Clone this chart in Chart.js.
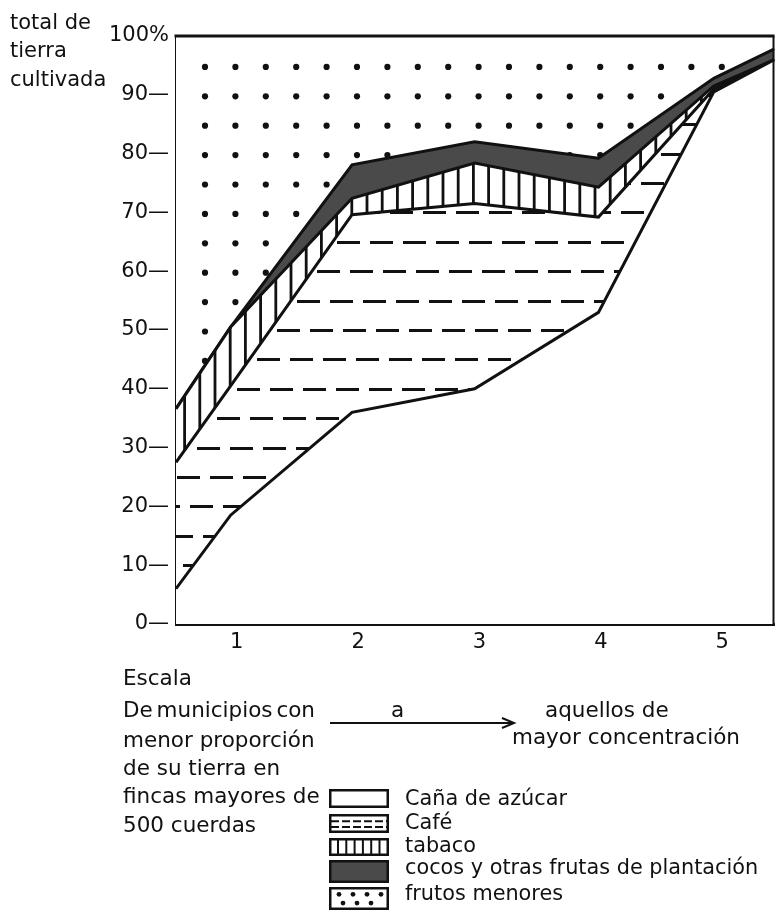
<!DOCTYPE html>
<html><head><meta charset="utf-8">
<script src="https://cdn.jsdelivr.net/npm/chart.js@4"></script>
<style>
html,body{margin:0;padding:0;background:#fff;width:776px;height:916px;overflow:hidden;font-family:"DejaVu Sans",sans-serif;color:#111}
#wrap{position:relative;width:776px;height:916px}
#c{position:absolute;left:0;top:0}
.t{position:absolute;font-size:21.5px;line-height:21px;white-space:nowrap}
.l{position:absolute;font-size:20.8px;line-height:20px;white-space:nowrap}
.box{position:absolute;left:329px}
</style></head><body>
<div id="wrap">
<canvas id="c" width="776" height="916"></canvas>
<div class="t" style="left:10px;top:12px;font-size:21px">total de</div>
<div class="t" style="left:10px;top:40px;font-size:21px">tierra</div>
<div class="t" style="left:10px;top:69px;font-size:21px">cultivada</div>

<div class="t" style="left:123px;top:667px">Escala</div>
<div class="t" style="left:123px;top:699px;word-spacing:-3px">De municipios con</div>
<div class="t" style="left:123px;top:729px">menor proporción</div>
<div class="t" style="left:123px;top:757px">de su tierra en</div>
<div class="t" style="left:123px;top:785px">fincas mayores de</div>
<div class="t" style="left:123px;top:814px">500 cuerdas</div>

<div class="t" style="left:391px;top:699px">a</div>
<div class="t" style="left:545px;top:699px">aquellos de</div>
<div class="t" style="left:512px;top:726px">mayor concentración</div>
<canvas id="arrow" width="200" height="14" style="position:absolute;left:326px;top:716px"></canvas>

<canvas class="box" id="b0" width="60" height="19" style="top:789px"></canvas>
<canvas class="box" id="b1" width="60" height="19" style="top:814px"></canvas>
<canvas class="box" id="b2" width="60" height="18" style="top:838px"></canvas>
<canvas class="box" id="b3" width="60" height="23" style="top:860px"></canvas>
<canvas class="box" id="b4" width="60" height="23" style="top:887px"></canvas>
<div class="l" style="left:405px;top:788px">Caña de azúcar</div>
<div class="l" style="left:405px;top:812px">Café</div>
<div class="l" style="left:405px;top:835px">tabaco</div>
<div class="l" style="left:405px;top:857px">cocos y otras frutas de plantación</div>
<div class="l" style="left:405px;top:883px">frutos menores</div>
</div>
<script>
// ---- data ----
const xPositions  = [0.5, 0.95, 1.95, 2.96, 3.98, 4.93, 5.43];   // left edge, scale steps 1..5, right edge
const xTickValues = [1, 2, 3, 4, 5];
const yTickValues = [0, 10, 20, 30, 40, 50, 60, 70, 80, 90, 100];
const seriesNames = ['Caña de azúcar', 'Café', 'tabaco', 'cocos y otras frutas de plantación', 'frutos menores'];
const cana   = [6,    18.5, 36,   40,   53,   90.5, 96];
const cafe   = [21.5, 22,   33.6, 31.5, 16.2, 0.5,  0];
const tabaco = [9.1,  10,   2.8,  6.9,  5.1,  0.5,  0];
const cocos  = [0,    0,    5.7,  3.6,  4.9,  1.3,  1.8];
const frutos = [63.4, 49.5, 21.9, 18,   20.8, 7.2,  2.2];

const FONT = '"DejaVu Sans", sans-serif';
const INK = '#111';
const DARK = '#4a4a4a';
const pts = arr => xPositions.map((x, i) => ({x, y: arr[i]}));

const framePlugin = {
  id: 'frame',
  afterDraw(chart) {
    const {ctx, chartArea: a} = chart;
    ctx.save();
    ctx.strokeStyle = INK;
    ctx.lineWidth = 2.8;
    ctx.beginPath(); ctx.moveTo(a.left - 1.5, a.top); ctx.lineTo(a.right, a.top); ctx.stroke();
    ctx.lineWidth = 2;
    ctx.beginPath(); ctx.moveTo(a.right - 1, a.top); ctx.lineTo(a.right - 1, a.bottom); ctx.stroke();
    ctx.restore();
  }
};

const line = {borderColor: INK, borderWidth: 3, pointRadius: 0};
const chart = new Chart(document.getElementById('c'), {
  type: 'line',
  data: {datasets: [
    {label: seriesNames[0], data: pts(cana),   fill: 'origin', backgroundColor: '#fff', ...line},
    {label: seriesNames[1], data: pts(cafe),   fill: '-1', backgroundColor: '#fff', ...line},
    {label: seriesNames[2], data: pts(tabaco), fill: '-1', backgroundColor: '#fff', ...line},
    {label: seriesNames[3], data: pts(cocos),  fill: '-1', backgroundColor: DARK, ...line},
    {label: seriesNames[4], data: pts(frutos), fill: '-1', backgroundColor: '#fff', borderWidth: 0, pointRadius: 0}
  ]},
  options: {
    responsive: false,
    animation: false,
    layout: {padding: {top: 36, right: 0, bottom: 252, left: 0}},
    elements: {line: {tension: 0, borderJoinStyle: 'miter'}, point: {radius: 0}},
    plugins: {legend: {display: false}, tooltip: {enabled: false}},
    scales: {
      x: {
        type: 'linear', min: xPositions[0], max: xPositions[xPositions.length - 1], z: 1,
        grid: {display: false, drawTicks: false},
        border: {display: true, color: INK, width: 3},
        afterBuildTicks: s => { s.ticks = xTickValues.map(v => ({value: v})); },
        afterFit: s => { s.height = 40; },
        ticks: {color: INK, font: {family: FONT, size: 21}, padding: 6, maxRotation: 0, autoSkip: false}
      },
      y: {
        stacked: true, min: 0, max: 100, z: 1,
        grid: {display: false, drawTicks: false},
        border: {display: true, color: INK, width: 3},
        afterBuildTicks: s => { s.ticks = yTickValues.map(v => ({value: v})); },
        afterFit: s => { s.width = 176; },
        ticks: {color: INK, font: {family: FONT, size: 21}, padding: 7,
                callback: v => v === 100 ? '100%' : v + '—'}
      }
    }
  },
  plugins: [framePlugin]
});

// ---- hatch patterns anchored to the chart's own scales ----
function makeCanvas(w, h) { const c = document.createElement('canvas'); c.width = w; c.height = h; return c; }
function buildPatterns() {
  const a = chart.chartArea, ys = chart.scales.y, W = chart.width, H = chart.height;
  // café: horizontal dashed lines every 5 %
  const c1 = makeCanvas(W, H), g1 = c1.getContext('2d');
  g1.fillStyle = '#fff'; g1.fillRect(0, 0, W, H);
  g1.strokeStyle = INK; g1.lineWidth = 3;
  for (let v = 5; v < 100; v += 5) {
    const y = Math.round(ys.getPixelForValue(v)) + 0.5;
    g1.setLineDash([23, 10]); g1.lineDashOffset = ((v / 5) * 13) % 33;
    g1.beginPath(); g1.moveTo(a.left, y); g1.lineTo(a.right, y); g1.stroke();
  }
  // tabaco: vertical lines
  const c2 = makeCanvas(W, H), g2 = c2.getContext('2d');
  g2.fillStyle = '#fff'; g2.fillRect(0, 0, W, H);
  g2.strokeStyle = INK; g2.lineWidth = 2.8;
  for (let x = 443 - 15.2 * 20; x < W; x += 15.2) {
    g2.beginPath(); g2.moveTo(x, 0); g2.lineTo(x, H); g2.stroke();
  }
  // frutos menores: dot grid
  const c3 = makeCanvas(W, H), g3 = c3.getContext('2d');
  g3.fillStyle = '#fff'; g3.fillRect(0, 0, W, H);
  g3.fillStyle = '#111';
  for (let v = 95; v > 0; v -= 5) {
    const y = ys.getPixelForValue(v) + 1.5;
    for (let x = a.left + 29; x < a.right - 40; x += 30.4) {
      g3.beginPath(); g3.arc(x, y, 3.1, 0, Math.PI * 2); g3.fill();
    }
  }
  const ctx = chart.ctx;
  chart.data.datasets[1].backgroundColor = ctx.createPattern(c1, 'no-repeat');
  chart.data.datasets[2].backgroundColor = ctx.createPattern(c2, 'no-repeat');
  chart.data.datasets[4].backgroundColor = ctx.createPattern(c3, 'no-repeat');
  chart.update();
}
buildPatterns();

// ---- legend swatches ----
function swatch(id, kind) {
  const cv = document.getElementById(id), g = cv.getContext('2d'), w = cv.width, h = cv.height;
  g.fillStyle = kind === 'cocos' ? DARK : '#fff'; g.fillRect(1, 1, w - 2, h - 2);
  g.strokeStyle = INK; g.fillStyle = INK;
  if (kind === 'cafe') {
    g.lineWidth = 2; g.setLineDash([8, 3]);
    [h * 0.38, h * 0.68].forEach(y => { g.beginPath(); g.moveTo(2, y); g.lineTo(w - 2, y); g.stroke(); });
    g.setLineDash([]);
  } else if (kind === 'tabaco') {
    g.lineWidth = 2;
    for (let x = 9; x < w - 3; x += 8.3) { g.beginPath(); g.moveTo(x, 0); g.lineTo(x, h); g.stroke(); }
  } else if (kind === 'frutos') {
    [h * 0.32, h * 0.7].forEach((y, r) => {
      for (let x = 10 + r * 4; x < w - 4; x += 14) { g.beginPath(); g.arc(x, y, 2.4, 0, Math.PI * 2); g.fill(); }
    });
  }
  g.lineWidth = 2.5; g.strokeRect(1.25, 1.25, w - 2.5, h - 2.5);
}
swatch('b0', 'cana'); swatch('b1', 'cafe'); swatch('b2', 'tabaco'); swatch('b3', 'cocos'); swatch('b4', 'frutos');

// arrow
(function () {
  const g = document.getElementById('arrow').getContext('2d');
  g.strokeStyle = INK; g.lineWidth = 2;
  g.beginPath(); g.moveTo(4, 7); g.lineTo(186, 7); g.stroke();
  g.beginPath(); g.moveTo(176, 2); g.lineTo(188, 7); g.lineTo(176, 12); g.stroke();
})();
</script>
</body></html>
